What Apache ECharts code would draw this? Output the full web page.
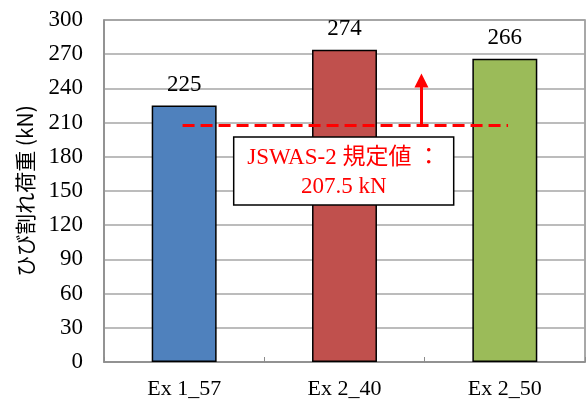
<!DOCTYPE html>
<html>
<head>
<meta charset="utf-8">
<script src="https://cdn.jsdelivr.net/npm/echarts@6/dist/echarts.min.js"></script>
<style>
  html, body { margin: 0; padding: 0; background: #fff; }
  #root { width: 587px; height: 401px; }
</style>
</head>
<body>
<div id="root"></div>
<script>
// data
const categories = ["Ex 1_57", "Ex 2_40", "Ex 2_50"];
const loads = [225, 274, 266];
const barColors = ["#4F81BD", "#C0504D", "#9BBB59"];
const yTicks = { min: 0, max: 300, interval: 30 };

// JSWAS-2 spec value and annotation
const specValue = 207.5;
const specLineX = [0.49, 2.52]; // along the category band (continuous units)
const arrowX = 1.98;
const arrowTop = 247;
const boxAt = [1.495, 167.5];
const boxText = "JSWAS-2 規定値 ：\n207.5 kN";

const serif = "'Liberation Serif', 'Times New Roman', 'Noto Sans CJK JP', serif";
const grey = "#8C8C8C";

const chartDom = document.getElementById("root");
const myChart = echarts.init(chartDom);

myChart.setOption({
  animation: false,
  grid: {
    left: 104, right: 2, top: 20, bottom: 39,
    outerBoundsMode: "none",
    containLabel: false,
    show: true, borderColor: grey, borderWidth: 1.5
  },
  xAxis: [
    {
      type: "category",
      data: categories,
      axisLine: { lineStyle: { color: grey, width: 1.5 } },
      axisTick: { show: true, inside: true, length: 5, lineStyle: { color: grey } },
      axisLabel: { fontFamily: serif, fontSize: 22, color: "#000", margin: 16 }
    },
    {
      // hidden continuous twin of the category axis, used for the annotation
      type: "value", min: 0, max: 3, show: false
    }
  ],
  yAxis: {
    type: "value",
    min: yTicks.min,
    max: yTicks.max,
    interval: yTicks.interval,
    name: "ひび割れ荷重 (kN)",
    nameLocation: "middle",
    nameGap: 68,
    nameTextStyle: { fontFamily: "'Noto Sans CJK JP', sans-serif", fontSize: 21, color: "#000" },
    axisLine: { show: true, lineStyle: { color: grey, width: 1.5 } },
    axisTick: { show: false },
    axisLabel: { fontFamily: serif, fontSize: 23, color: "#000", margin: 21 },
    splitLine: { lineStyle: { color: "#A6A6A6", width: 1.5 } }
  },
  series: [
    {
      type: "bar",
      barWidth: "40.5%",
      data: loads.map((v, i) => ({
        value: v,
        itemStyle: { color: barColors[i] }
      })),
      itemStyle: { borderColor: "#000", borderWidth: 1.5 },
      label: {
        show: true, position: "top", distance: 9,
        fontFamily: serif, fontSize: 23, color: "#000"
      },
      z: 2
    },
    {
      // spec line (dashed)
      type: "line",
      xAxisIndex: 1,
      data: specLineX.map(x => [x, specValue]),
      symbol: "none",
      lineStyle: { color: "#FF0000", width: 3, type: [12, 6] },
      z: 5,
      markLine: {
        silent: true,
        symbol: ["none", "triangle"],
        symbolSize: [14, 14],
        label: { show: false },
        lineStyle: { color: "#FF0000", width: 3, type: "solid" },
        data: [[{ coord: [arrowX, specValue] }, { coord: [arrowX, arrowTop] }]]
      }
    }
  ]
});

// annotation box, placed through the axes
const c = myChart.convertToPixel({ xAxisIndex: 1, yAxisIndex: 0 }, boxAt);
const boxW = 220, boxH = 68;
myChart.setOption({
  graphic: [
    {
      type: "rect",
      z: 100,
      shape: { x: c[0] - boxW / 2, y: c[1] - boxH / 2, width: boxW, height: boxH },
      style: { fill: "#fff", stroke: "#000", lineWidth: 1.5 }
    },
    {
      type: "text",
      z: 101,
      x: c[0],
      y: c[1] + 1,
      style: {
        text: boxText,
        fill: "#FF0000",
        font: "23px " + serif,
        lineHeight: 29,
        align: "center",
        verticalAlign: "middle"
      }
    }
  ]
});
</script>
</body>
</html>
